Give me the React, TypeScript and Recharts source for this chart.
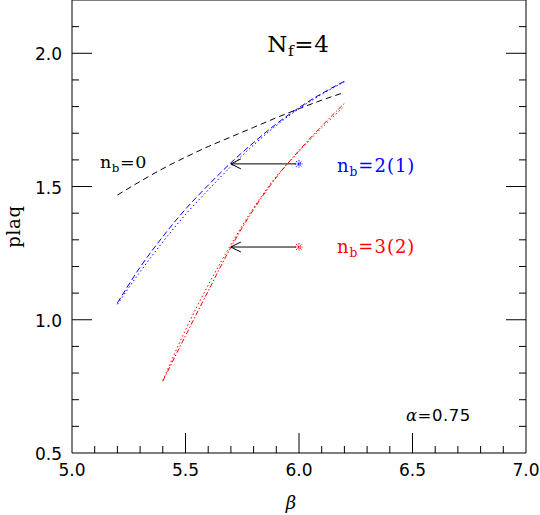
import React from "react";
import {
  ComposedChart,
  Line,
  XAxis,
  YAxis,
  ReferenceDot,
  ReferenceLine,
} from "recharts";

// beta grid for the n_b = 0 and n_b = 2(1) curves
const betaLong = [5.2, 5.3, 5.4, 5.5, 5.6, 5.7, 5.8, 5.9, 6.0, 6.1, 6.2];
// beta grid for the n_b = 3(2) curves
const betaShort = [5.4, 5.5, 5.6, 5.7, 5.8, 5.9, 6.0, 6.1, 6.2];

const plaqNb0 = [1.468, 1.519, 1.567, 1.61, 1.65, 1.686, 1.722, 1.758, 1.792, 1.824, 1.853];
const plaqNb2Dash = [1.063, 1.197, 1.312, 1.415, 1.505, 1.589, 1.665, 1.735, 1.796, 1.849, 1.895];
const plaqNb2Dot = [1.058, 1.18, 1.292, 1.395, 1.487, 1.575, 1.656, 1.729, 1.792, 1.846, 1.893];
const plaqNb3DashDot = [0.77, 0.94, 1.108, 1.272, 1.414, 1.534, 1.635, 1.727, 1.812];
const plaqNb3Dot = [0.772, 0.962, 1.13, 1.282, 1.42, 1.538, 1.632, 1.72, 1.802];

// starred points and where their arrows point
const starBeta = [6.0, 6.0];
const starPlaq = [1.585, 1.273];
const arrowToBeta = [5.7, 5.7];
const starColors = ["#0000ff", "#ff0000"];

const xTicks = [
  5.0, 5.1, 5.2, 5.3, 5.4, 5.5, 5.6, 5.7, 5.8, 5.9, 6.0, 6.1, 6.2, 6.3, 6.4,
  6.5, 6.6, 6.7, 6.8, 6.9, 7.0,
];
const xMajor = [5.5, 6.0, 6.5];
const xLabeled = [5.0, 5.5, 6.0, 6.5, 7.0];
const yTicks = [
  0.5, 0.6, 0.7, 0.8, 0.9, 1.0, 1.1, 1.2, 1.3, 1.4, 1.5, 1.6, 1.7, 1.8, 1.9,
  2.0, 2.1, 2.2,
];
const yMajor = [1.0, 1.5, 2.0];
const yLabeled = [0.5, 1.0, 1.5, 2.0];

const toPoints = (bs: number[], vs: number[]) =>
  bs.map((b, i) => ({ b, v: vs[i] }));

const has = (list: number[], v: number) =>
  list.some((m) => Math.abs(m - v) < 1e-6);

const tickFont = { fontFamily: "DejaVu Sans", fontSize: 17, fill: "#000" };
const serif = "DejaVu Serif";

function tickLen(major: number[], v: number, ends: number[]) {
  if (has(ends, v)) return 0;
  return has(major, v) ? 20 : 7;
}

function BottomTick(props: any) {
  const { x, y, payload } = props;
  const v = payload.value;
  const len = tickLen(xMajor, v, [5.0, 7.0]);
  return (
    <g>
      {len > 0 && <line x1={x} x2={x} y1={y} y2={y - len} stroke="#000" />}
      {has(xLabeled, v) && (
        <text x={x} y={y + 23} textAnchor="middle" {...tickFont}>
          {v.toFixed(1)}
        </text>
      )}
    </g>
  );
}

function TopTick(props: any) {
  const { x, y, payload } = props;
  const len = tickLen(xMajor, payload.value, [5.0, 7.0]);
  if (len === 0) return <g />;
  return <line x1={x} x2={x} y1={y} y2={y + len} stroke="#000" />;
}

function LeftTick(props: any) {
  const { x, y, payload } = props;
  const v = payload.value;
  const len = tickLen(yMajor, v, [0.5, 2.2]);
  return (
    <g>
      {len > 0 && <line x1={x} x2={x + len} y1={y} y2={y} stroke="#000" />}
      {has(yLabeled, v) && (
        <text x={x - 10} y={y + 7} textAnchor="end" {...tickFont}>
          {v.toFixed(1)}
        </text>
      )}
    </g>
  );
}

function RightTick(props: any) {
  const { x, y, payload } = props;
  const len = tickLen(yMajor, payload.value, [0.5, 2.2]);
  if (len === 0) return <g />;
  return <line x1={x} x2={x - len} y1={y} y2={y} stroke="#000" />;
}

function Asterisk(props: any) {
  const { cx, cy, fill } = props;
  const r = 4;
  const d = r * 0.72;
  return (
    <g stroke={fill} strokeWidth={1} strokeDasharray="1.5 1">
      <line x1={cx - r} x2={cx + r} y1={cy} y2={cy} />
      <line x1={cx} x2={cx} y1={cy - r} y2={cy + r} />
      <line x1={cx - d} x2={cx + d} y1={cy - d} y2={cy + d} />
      <line x1={cx - d} x2={cx + d} y1={cy + d} y2={cy - d} />
    </g>
  );
}

function Arrow(props: any) {
  const { x1, y1, x2, y2 } = props;
  // arrow runs from the starred point (larger beta) to the tip (smaller beta)
  const tipX = Math.min(x1, x2);
  const tailX = Math.max(x1, x2);
  const y = (y1 + y2) / 2;
  return (
    <g stroke="#000" strokeWidth={1} fill="none">
      <line x1={tailX - 3} x2={tipX} y1={y} y2={y} />
      <polyline points={`${tipX + 10},${y - 5} ${tipX},${y} ${tipX + 10},${y + 5}`} />
    </g>
  );
}

function SubLabel(props: any) {
  const { cx, cy, main, sub, rest, color, size, spacing } = props;
  return (
    <text
      x={cx}
      y={cy}
      fill={color}
      fontFamily={serif}
      fontSize={size}
      letterSpacing={spacing ?? 0.6}
    >
      {main}
      <tspan fontSize={size * 0.68} dy={4}>
        {sub}
      </tspan>
      <tspan dy={-4}>{rest}</tspan>
    </text>
  );
}

export default function App() {
  const nb0 = toPoints(betaLong, plaqNb0);
  const nb2Dash = toPoints(betaLong, plaqNb2Dash);
  const nb2Dot = toPoints(betaLong, plaqNb2Dot);
  const nb3DashDot = toPoints(betaShort, plaqNb3DashDot);
  const nb3Dot = toPoints(betaShort, plaqNb3Dot);

  const lineProps = {
    xAxisId: "b",
    yAxisId: "l",
    dataKey: "v",
    type: "monotone" as const,
    dot: false,
    activeDot: false,
    strokeWidth: 1,
    isAnimationActive: false,
  };

  return (
    <div style={{ position: "absolute", left: 0, top: 0, background: "#fff" }}>
      <ComposedChart
        width={540}
        height={515}
        margin={{ top: 0, right: 14, bottom: 0, left: 0 }}
      >
        <XAxis
          xAxisId="b"
          type="number"
          dataKey="b"
          domain={[5, 7]}
          ticks={xTicks}
          interval={0}
          tickSize={0}
          tickMargin={0}
          tick={<BottomTick />}
          height={62}
          axisLine={{ stroke: "#000" }}
          allowDataOverflow
          label={(p: any) => {
            const vb = p.viewBox;
            return (
              <text
                x={vb.x + vb.width / 2 - 8}
                y={vb.y + 56}
                textAnchor="middle"
                fontFamily={serif}
                fontStyle="italic"
                fontSize={18}
              >
                β
              </text>
            );
          }}
        />
        <XAxis
          xAxisId="t"
          orientation="top"
          mirror
          type="number"
          domain={[5, 7]}
          ticks={xTicks}
          interval={0}
          tickSize={0}
          tickMargin={0}
          tick={<TopTick />}
          axisLine={{ stroke: "#000" }}
          allowDataOverflow
        />
        <YAxis
          yAxisId="l"
          type="number"
          domain={[0.5, 2.2]}
          ticks={yTicks}
          interval={0}
          tickSize={0}
          tickMargin={0}
          tick={<LeftTick />}
          width={72}
          axisLine={{ stroke: "#000" }}
          allowDataOverflow
          label={(p: any) => {
            const vb = p.viewBox;
            const cx = 13;
            const cy = vb.y + vb.height / 2;
            return (
              <text
                x={cx}
                y={cy}
                transform={`rotate(-90 ${cx} ${cy})`}
                textAnchor="middle"
                dominantBaseline="central"
                fontFamily={serif}
                fontSize={18}
                letterSpacing={0.8}
              >
                plaq
              </text>
            );
          }}
        />
        <YAxis
          yAxisId="r"
          orientation="right"
          mirror
          type="number"
          domain={[0.5, 2.2]}
          ticks={yTicks}
          interval={0}
          tickSize={0}
          tickMargin={0}
          tick={<RightTick />}
          axisLine={{ stroke: "#000" }}
          allowDataOverflow
        />

        <Line {...lineProps} data={nb0} stroke="#000" strokeDasharray="6 4" />
        <Line {...lineProps} data={nb2Dash} stroke="#0000ff" strokeDasharray="6 3" />
        <Line {...lineProps} data={nb2Dot} stroke="#0000ff" strokeDasharray="1.5 2.5" />
        <Line {...lineProps} data={nb3DashDot} stroke="#ff0000" strokeDasharray="5 2 1.5 2" />
        <Line {...lineProps} data={nb3Dot} stroke="#ff0000" strokeDasharray="1.5 2.5" />

        {starBeta.map((b, i) => (
          <ReferenceLine
            key={`arrow-${i}`}
            xAxisId="b"
            yAxisId="l"
            segment={[
              { x: b, y: starPlaq[i] },
              { x: arrowToBeta[i], y: starPlaq[i] },
            ]}
            shape={(p: any) => <Arrow {...p} />}
          />
        ))}
        {starBeta.map((b, i) => (
          <ReferenceDot
            key={`star-${i}`}
            xAxisId="b"
            yAxisId="l"
            x={b}
            y={starPlaq[i]}
            fill={starColors[i]}
            shape={(p: any) => <Asterisk {...p} fill={starColors[i]} />}
          />
        ))}

        <ReferenceDot
          xAxisId="b"
          yAxisId="l"
          x={5.123}
          y={1.568}
          shape={(p: any) => (
            <SubLabel cx={p.cx} cy={p.cy} main="n" sub="b" rest="=0" color="#000" size={17.5} />
          )}
        />
        <ReferenceDot
          xAxisId="b"
          yAxisId="l"
          x={6.167}
          y={1.556}
          shape={(p: any) => (
            <SubLabel cx={p.cx} cy={p.cy} main="n" sub="b" rest="=2(1)" color="#0000ff" size={18} spacing={1} />
          )}
        />
        <ReferenceDot
          xAxisId="b"
          yAxisId="l"
          x={6.167}
          y={1.25}
          shape={(p: any) => (
            <SubLabel cx={p.cx} cy={p.cy} main="n" sub="b" rest="=3(2)" color="#ff0000" size={18} spacing={1} />
          )}
        />
        <ReferenceDot
          xAxisId="b"
          yAxisId="l"
          x={5.86}
          y={2.004}
          shape={(p: any) => (
            <SubLabel cx={p.cx} cy={p.cy} main="N" sub="f" rest="=4" color="#000" size={23} />
          )}
        />
        <ReferenceDot
          xAxisId="b"
          yAxisId="l"
          x={6.471}
          y={0.62}
          shape={(p: any) => (
            <text x={p.cx} y={p.cy} fontFamily="DejaVu Sans" fontSize={16.5} letterSpacing={0.5}>
              <tspan fontFamily={serif} fontStyle="italic">
                α
              </tspan>
              =0.75
            </text>
          )}
        />
      </ComposedChart>
    </div>
  );
}
